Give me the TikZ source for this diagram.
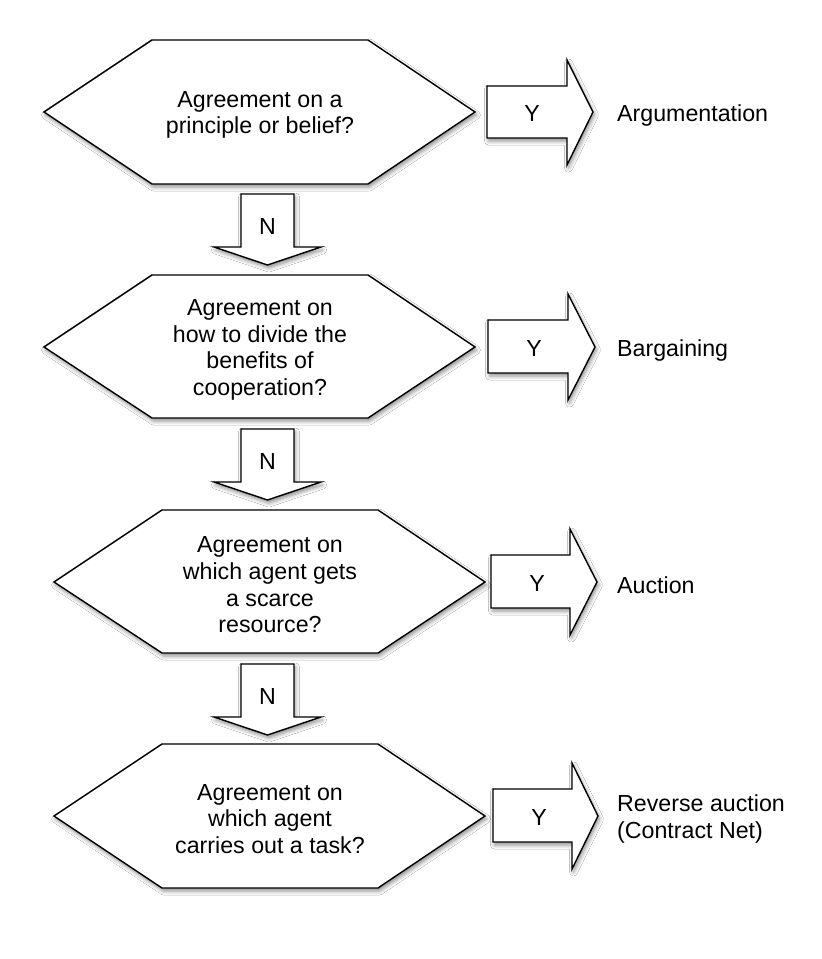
\documentclass[tikz,border=0pt]{standalone}
\usepackage{fontspec}
\setmainfont{Liberation Sans}
\usetikzlibrary{shadows.blur}
\begin{document}
\begin{tikzpicture}[x=1pt,y=-1pt,
  boxshape/.style={draw=black, line width=1.4pt, fill=white, line join=miter,
    blur shadow={shadow xshift=1.5pt, shadow yshift=-3pt, shadow blur radius=4pt, shadow opacity=45}},
  txt/.style={font=\fontsize{23.2}{26.7}\selectfont, align=center, inner sep=0pt},
  lbl/.style={font=\fontsize{23.2}{26.7}\selectfont, align=left, anchor=west, inner sep=0pt}]
\useasboundingbox[fill=white] (0,0) rectangle (822,959);

% hexagons
\path[boxshape] (44,112) -- (152,40) -- (368,40) -- (475,112) -- (368,184) -- (152,184) -- cycle;
\path[boxshape] (44,347) -- (152,275) -- (368,275) -- (475,347) -- (368,418) -- (152,418) -- cycle;
\path[boxshape] (54,582) -- (162,510) -- (378,510) -- (485,582) -- (378,653) -- (162,653) -- cycle;
\path[boxshape] (54,816) -- (162,744) -- (378,744) -- (485,816) -- (378,888) -- (162,888) -- cycle;

\node[txt] (q1) at (260,115) {Agreement on a\\principle or belief?};
\node[txt] (q2) at (260,350) {Agreement on\\how to divide the\\benefits of\\cooperation?};
\node[txt] (q3) at (270,585) {Agreement on\\which agent gets\\a scarce\\resource?};
\node[txt] (q4) at (270,819) {Agreement on\\which agent\\carries out a task?};

% N arrows
\path[boxshape] (241,194) -- (294,194) -- (294,247) -- (321,247) -- (267.5,265) -- (214,247) -- (241,247) -- cycle;
\path[boxshape] (241,429) -- (294,429) -- (294,482) -- (321,482) -- (267.5,500) -- (214,482) -- (241,482) -- cycle;
\path[boxshape] (241,664) -- (294,664) -- (294,717) -- (321,717) -- (267.5,735) -- (214,717) -- (241,717) -- cycle;
\node[txt] (n1) at (267.5,227) {N};
\node[txt] (n2) at (267.5,462) {N};
\node[txt] (n3) at (267.5,697) {N};

% Y arrows
\path[boxshape] (487,86) -- (567,86) -- (567,60) -- (593,112) -- (567,165) -- (567,138) -- (487,138) -- cycle;
\path[boxshape] (488,320) -- (568,320) -- (568,294) -- (595,347) -- (568,400) -- (568,373) -- (488,373) -- cycle;
\path[boxshape] (491,555) -- (570,555) -- (570,529) -- (597,582) -- (570,635) -- (570,608) -- (491,608) -- cycle;
\path[boxshape] (493,789) -- (572,789) -- (572,763) -- (598,816) -- (572,869) -- (572,842) -- (493,842) -- cycle;
\node[txt] (y1) at (532,114) {Y};
\node[txt] (y2) at (534,349) {Y};
\node[txt] (y3) at (537,584) {Y};
\node[txt] (y4) at (539,818) {Y};

% outcomes
\node[lbl] (a1) at (617,115) {Argumentation};
\node[lbl] (a2) at (617,350) {Bargaining};
\node[lbl] (a3) at (617,585) {Auction};
\node[lbl] (a4) at (617,819) {Reverse auction\\(Contract Net)};
\end{tikzpicture}
\end{document}
